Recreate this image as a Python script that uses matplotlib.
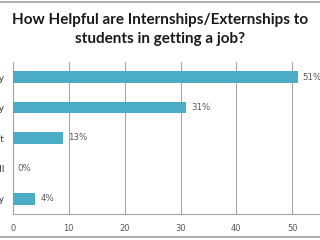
import matplotlib.pyplot as plt
from matplotlib.lines import Line2D

# data (category labels are cut off at the left edge)
categories = ['Extremely', 'Very', 'Somewhat', 'Not at all', 'Slightly']
percents = [51, 31, 9, 0, 4]
value_labels = ['51%', '31%', '13%', '0%', '4%']
x_ticks = [0, 10, 20, 30, 40, 50]

bar_color = '#4BACC6'
grid_color = '#A6A6A6'
text_color = '#595959'

fig = plt.figure(figsize=(3.2, 2.4), dpi=100)
fig.patch.set_facecolor('white')

ax = fig.add_axes([13 / 320, 26 / 240, 335 / 320, 152 / 240])
ypos = list(range(len(categories)))
ax.barh(ypos, percents, height=0.38, color=bar_color, zorder=3)
ax.set_ylim(len(categories) - 0.5, -0.5)
ax.set_xlim(0, 60)

ax.set_xticks(x_ticks)
ax.set_xticklabels([str(t) for t in x_ticks], fontsize=6, color=text_color,
                   family='DejaVu Sans')
ax.set_yticks(ypos)
ax.set_yticklabels(categories, fontsize=6.5, color='#333333', family='DejaVu Sans')
ax.tick_params(axis='y', length=0, pad=6)
ax.tick_params(axis='x', length=0, pad=7)

ax.grid(axis='x', color=grid_color, linewidth=0.8, zorder=0)
for side in ['top', 'right']:
    ax.spines[side].set_visible(False)
ax.spines['left'].set_color(grid_color)
ax.spines['bottom'].set_color(grid_color)

for y, v, lab in zip(ypos, percents, value_labels):
    ax.annotate(lab, (v, y), xytext=(3.5, 0), textcoords='offset points',
                va='center', ha='left', fontsize=6.2, color=text_color,
                family='DejaVu Sans')

fig.text(0.5, 0.877, 'How Helpful are Internships/Externships to\nstudents in getting a job?',
         ha='center', va='center', fontsize=11, fontweight='bold',
         family='Lato', color='#1a1a1a', linespacing=1.4)

# frame lines at top and bottom of the crop
fig.add_artist(Line2D([0, 1], [0.993, 0.993], color='#A0A0A0', linewidth=1.2))
fig.add_artist(Line2D([0, 1], [0.013, 0.013], color='#A0A0A0', linewidth=1.2))

fig.savefig('out.png', dpi=100)
